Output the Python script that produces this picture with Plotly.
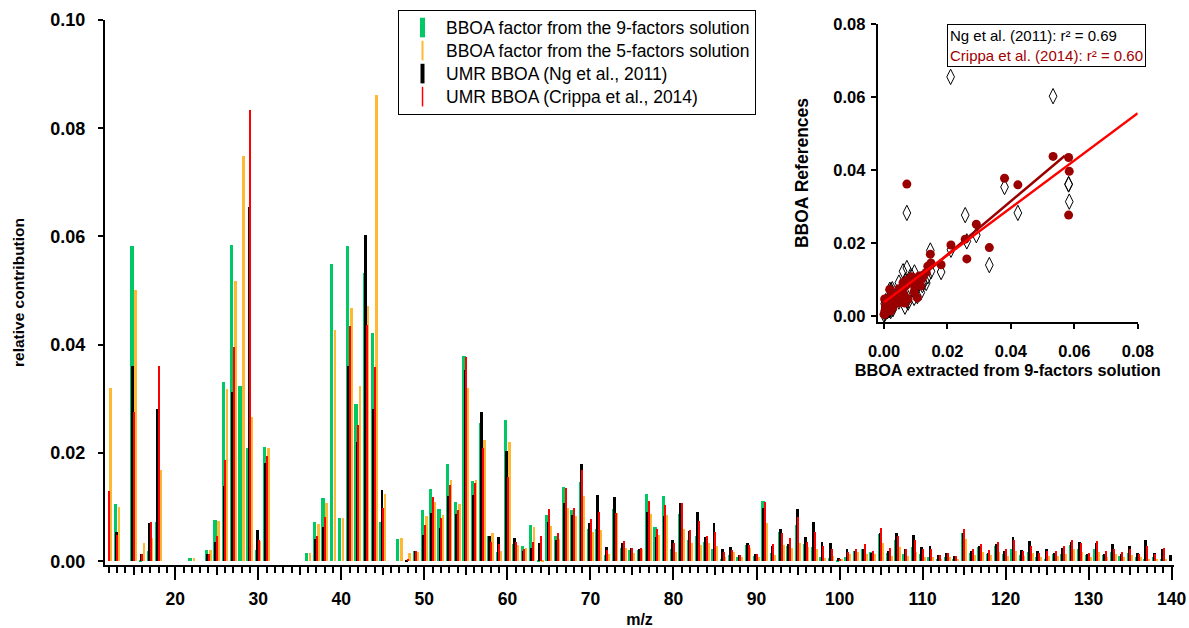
import plotly.graph_objects as go

# ---------------- data ----------------
mz = list(range(12, 141))

bboa_9f = [
    None, 0.0105, None, 0.0582, 0.0003, 0.0018, 0.0072, None, None, None,          # 12-21
    0.0006, None, 0.0021, 0.0076, 0.0332, 0.0584, 0.0324, 0.0210, 0.0020, 0.0211,  # 22-31
    None, None, None, None, 0.0016, 0.0073, 0.0116, 0.0549, 0.0080, 0.0582,        # 32-41
    0.0291, 0.0533, 0.0422, 0.0072, None, 0.0041, 0.0, 0.0018, 0.0095, 0.0133,     # 42-51
    0.0097, 0.0180, 0.0110, 0.0380, 0.0148, 0.0256, 0.0047, 0.0017, 0.0261, 0.0031,  # 52-61
    0.0028, 0.0066, 0.0002, 0.0086, 0.0047, 0.0138, 0.0094, 0.0146, 0.0059, 0.0060,  # 62-71
    0.0011, 0.0096, 0.0025, 0.0020, 0.0020, 0.0124, 0.0063, 0.0121, 0.0022, 0.0087,  # 72-81
    0.0040, 0.0047, 0.0035, 0.0022, 0.0005, 0.0012, 0.0007, 0.0030, 0.0010, 0.0111,  # 82-91
    0.0016, 0.0054, 0.0028, 0.0067, 0.0031, 0.0026, 0.0007, 0.0006, 0.0003, 0.0008,  # 92-101
    0.0019, 0.0022, 0.0017, 0.0051, 0.0015, 0.0039, 0.0013, 0.0026, 0.0013, 0.0007,  # 102-111
    0.0005, 0.0008, 0.0004, 0.0052, 0.0015, 0.0026, 0.0014, 0.0028, 0.0013, 0.0023,  # 112-121
    0.0011, 0.0017, 0.0007, 0.0005, 0.0013, 0.0014, 0.0030, 0.0023, 0.0011, 0.0022,  # 122-131
    0.0011, 0.0017, 0.0009, 0.0015, 0.0007, 0.0005, 0.0007, 0.0005, None,           # 132-140
]

bboa_5f = [
    0.0320, 0.0100, None, 0.0502, 0.0033, 0.0043, 0.0169, None, None, None,
    0.0006, None, 0.0021, 0.0074, 0.0319, 0.0518, 0.0748, 0.0267, 0.0037, 0.0210,
    None, None, None, None, 0.0015, 0.0068, 0.0107, 0.0428, 0.0080, 0.0468,
    0.0324, 0.0471, 0.0862, 0.0124, None, 0.0042, 0.0015, 0.0017, 0.0084, 0.0110,
    0.0086, 0.0150, 0.0105, 0.0320, 0.0150, 0.0224, 0.0052, 0.0018, 0.0220, 0.0030,
    0.0025, 0.0063, 0.0001, 0.0065, 0.0041, 0.0099, 0.0084, 0.0121, 0.0054, 0.0057,
    0.0014, 0.0089, 0.0025, 0.0016, 0.0022, 0.0087, 0.0048, 0.0085, 0.0017, 0.0059,
    0.0033, 0.0030, 0.0033, 0.0028, 0.0007, 0.0017, 0.0007, 0.0025, 0.0008, 0.0071,
    0.0011, 0.0030, 0.0025, 0.0034, 0.0026, 0.0023, 0.0006, 0.0009, 0.0004, 0.0013,
    0.0017, 0.0014, 0.0013, 0.0034, 0.0009, 0.0026, 0.0009, 0.0017, 0.0008, 0.0007,
    0.0005, 0.0008, 0.0005, 0.0041, 0.0011, 0.0017, 0.0011, 0.0017, 0.0009, 0.0018,
    0.0009, 0.0015, 0.0007, 0.0009, 0.0009, 0.0014, 0.0022, 0.0017, 0.0007, 0.0017,
    0.0008, 0.0013, 0.0008, 0.0011, 0.0007, 0.0004, 0.0005, 0.0004, None,
]

umr_ng2011 = [
    None, 0.0054, None, 0.0360, 0.0013, 0.0071, 0.0282, None, None, None,
    None, None, 0.0013, 0.0036, 0.0139, 0.0313, None, 0.0655, 0.0057, 0.0181,
    None, None, None, None, None, 0.0041, 0.0064, None, None, 0.0361,
    0.0221, 0.0602, 0.0282, 0.0131, None, None, 0.0003, 0.0018, 0.0049, 0.0090,
    0.0062, 0.0120, 0.0087, 0.0353, 0.0122, 0.0276, 0.0046, 0.0044, 0.0204, 0.0042,
    0.0018, 0.0025, 0.0033, 0.0073, 0.0039, 0.0108, 0.0086, 0.0179, 0.0071, 0.0122,
    0.0026, 0.0119, 0.0034, 0.0025, 0.0022, 0.0091, 0.0045, 0.0084, 0.0039, 0.0108,
    0.0055, 0.0091, 0.0044, 0.0070, 0.0023, 0.0027, 0.0012, 0.0033, 0.0014, 0.0099,
    0.0029, 0.0059, 0.0031, 0.0096, 0.0045, 0.0073, 0.0036, 0.0034, 0.0006, 0.0022,
    0.0018, 0.0023, 0.0015, 0.0053, 0.0019, 0.0052, 0.0023, 0.0049, 0.0026, 0.0028,
    0.0012, 0.0016, 0.0010, 0.0053, 0.0018, 0.0028, 0.0015, 0.0031, 0.0019, 0.0044,
    0.0020, 0.0037, 0.0018, 0.0022, 0.0015, 0.0025, 0.0036, 0.0036, 0.0013, 0.0034,
    0.0014, 0.0031, 0.0014, 0.0028, 0.0016, 0.0040, 0.0015, 0.0023, 0.0011,
]

umr_crippa2014 = [
    0.0130, 0.0049, None, 0.0276, 0.0014, 0.0072, 0.0361, None, None, None,
    None, None, 0.0013, 0.0046, 0.0187, 0.0396, None, 0.0833, 0.0040, 0.0194,
    None, None, None, None, None, 0.0047, 0.0082, None, None, 0.0434,
    0.0251, 0.0437, 0.0359, 0.0098, None, None, 0.0004, 0.0018, 0.0066, 0.0119,
    0.0079, 0.0140, 0.0095, 0.0377, 0.0145, 0.0210, 0.0036, 0.0031, 0.0156, 0.0036,
    0.0023, 0.0035, 0.0046, 0.0096, 0.0053, 0.0136, 0.0099, 0.0169, 0.0078, 0.0091,
    0.0020, 0.0089, 0.0037, 0.0025, 0.0025, 0.0112, 0.0059, 0.0103, 0.0033, 0.0107,
    0.0057, 0.0074, 0.0046, 0.0054, 0.0017, 0.0020, 0.0012, 0.0030, 0.0013, 0.0109,
    0.0031, 0.0052, 0.0042, 0.0082, 0.0036, 0.0054, 0.0028, 0.0023, 0.0004, 0.0017,
    0.0023, 0.0031, 0.0018, 0.0062, 0.0025, 0.0047, 0.0023, 0.0040, 0.0022, 0.0022,
    0.0012, 0.0016, 0.0009, 0.0059, 0.0022, 0.0031, 0.0020, 0.0035, 0.0022, 0.0039,
    0.0019, 0.0028, 0.0015, 0.0018, 0.0018, 0.0028, 0.0039, 0.0034, 0.0016, 0.0037,
    0.0018, 0.0023, 0.0017, 0.0022, 0.0013, 0.0028, 0.0014, 0.0025, None,
]

series_names = [
    "BBOA factor from the 9-factors solution",
    "BBOA factor from the 5-factors solution",
    "UMR BBOA (Ng et al., 2011)",
    "UMR BBOA (Crippa et al., 2014)",
]

# linear fits shown in the inset (slope, intercept, x-extent)
fit_crippa = {"slope": 0.733, "intercept": 0.0021, "x": [0.0, 0.057]}
fit_ng = {"slope": 0.648, "intercept": 0.0037, "x": [0.0, 0.08]}
r2_text = ["Ng et al. (2011): r² = 0.69", "Crippa et al. (2014): r² = 0.60"]

x_major_ticks = list(range(20, 141, 10))
x_mid_ticks = list(range(15, 141, 10))
inset_ticks = [0.0, 0.02, 0.04, 0.06, 0.08]

# ---------------- styling ----------------
GREEN = "#00C864"
ORANGE = "#FFB833"
BLACK = "#000000"
RED = "#FF0000"
DARKRED = "#9A0000"
FONT = "Arial, Liberation Sans, Helvetica, sans-serif"

fig = go.Figure()

bar_specs = [
    (bboa_9f, GREEN, -0.42, 0.40),
    (bboa_5f, ORANGE, 0.08, 0.30),
    (umr_ng2011, BLACK, -0.28, 0.34),
    (umr_crippa2014, RED, -0.02, 0.18),
]
for vals, col, off, w in bar_specs:
    fig.add_trace(go.Bar(
        x=mz, y=vals, marker=dict(color=col, line=dict(width=0)),
        offset=off, width=w, showlegend=False, hoverinfo="skip",
        xaxis="x", yaxis="y",
    ))

# legend entries (thin vertical bar glyphs)
legend_glyphs = [(GREEN, 5), (ORANGE, 2), (BLACK, 4), (RED, 1.5)]
for name, (col, lw) in zip(series_names, legend_glyphs):
    fig.add_trace(go.Scatter(
        x=[None], y=[None], mode="markers",
        name="<span style='font-size:17.5px'>" + name + "</span>",
        marker=dict(symbol="line-ns", size=14, line=dict(width=lw, color=col)),
        xaxis="x3", yaxis="y", hoverinfo="skip",
    ))

# inset scatter
fig.add_trace(go.Scatter(
    x=bboa_9f, y=umr_ng2011, mode="markers", showlegend=False,
    marker=dict(symbol="diamond-tall-open", size=11, color=BLACK, line=dict(width=1)),
    xaxis="x2", yaxis="y2", hoverinfo="skip",
))
fig.add_trace(go.Scatter(
    x=bboa_9f, y=umr_crippa2014, mode="markers", showlegend=False,
    marker=dict(symbol="circle", size=9, color=DARKRED, line=dict(width=0)),
    xaxis="x2", yaxis="y2", hoverinfo="skip",
))
for fit, col in [(fit_crippa, DARKRED), (fit_ng, RED)]:
    fig.add_trace(go.Scatter(
        x=fit["x"], y=[fit["slope"] * v + fit["intercept"] for v in fit["x"]],
        mode="lines", line=dict(color=col, width=2.5), showlegend=False,
        xaxis="x2", yaxis="y2", hoverinfo="skip",
    ))

axis_common = dict(showgrid=False, zeroline=False, linecolor="black", linewidth=2,
                   ticks="outside", tickcolor="black", tickwidth=1.5, automargin=False)


def bold(size):
    return dict(family=FONT, size=size, color="black", weight="bold")


fig.update_layout(
    width=1189, height=628,
    margin=dict(l=105, r=15, t=20, b=63, autoexpand=False),
    paper_bgcolor="white", plot_bgcolor="white",
    barmode="overlay", bargap=0,
    font=dict(family=FONT, size=16, color="black"),
    xaxis=dict(
        **axis_common, domain=[0, 1], anchor="y", range=[11.54, 140.28],
        showline=True, tickvals=x_major_ticks, ticklen=13, tickfont=bold(17.5),
        ticklabelstandoff=4,
        minor=dict(dtick=1, tick0=0, ticks="outside", ticklen=6, tickcolor="black", tickwidth=1.5),
        title=dict(text="m/z", font=bold(16), standoff=10),
    ),
    xaxis3=dict(
        overlaying="x", anchor="y", range=[11.54, 140.28], showgrid=False, zeroline=False,
        showline=False, tickvals=x_mid_ticks, ticks="outside", ticklen=9,
        tickcolor="black", tickwidth=1.5, showticklabels=False, automargin=False,
    ),
    yaxis=dict(
        **axis_common, domain=[0, 1], anchor="x", range=[-0.0007, 0.1], showline=True,
        dtick=0.02, tick0=0, tickformat=".2f", ticklen=5, tickfont=bold(18),
        ticklabelstandoff=9,
        title=dict(text="relative contribution", font=bold(15.5), standoff=22),
    ),
    xaxis2=dict(
        **axis_common, domain=[0.7228, 0.9661], anchor="y2", range=[-0.002, 0.08],
        showline=True, tickvals=inset_ticks, tickformat=".2f", ticklen=5, tickfont=bold(16.5),
        ticklabelstandoff=8,
        title=dict(text="BBOA extracted from 9-factors solution", font=bold(16.3), standoff=6),
    ),
    yaxis2=dict(
        **axis_common, domain=[0.4459, 0.9927], anchor="x2", range=[-0.0017, 0.08],
        showline=True, tickvals=inset_ticks, tickformat=".2f", ticklen=5, tickfont=bold(16.5),
        ticklabelstandoff=2,
        title=dict(text="BBOA References", font=bold(17.5), standoff=20),
    ),
    legend=dict(
        x=0.2741, y=1.0183, xanchor="left", yanchor="top",
        bgcolor="white", bordercolor="black", borderwidth=1,
        font=dict(family=FONT, size=15.4, color="black"),
        itemwidth=37, tracegroupgap=0,
    ),
    annotations=[dict(
        xref="paper", yref="paper", x=0.7877, y=0.9927, xanchor="left", yanchor="top",
        text=r2_text[0] + "<br><span style='color:#A00000'>" + r2_text[1] + "</span>",
        showarrow=False, align="left", bgcolor="white", bordercolor="black",
        borderwidth=1, borderpad=2,
        font=dict(family=FONT, size=15, color="black"),
    )],
)

fig.write_html("out.html")
